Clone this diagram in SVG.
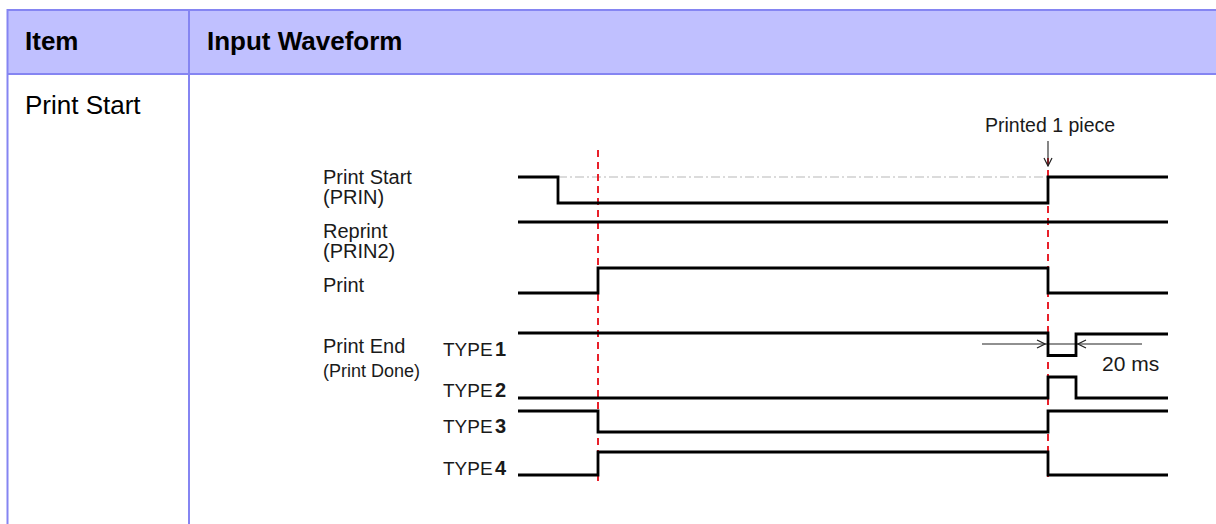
<svg xmlns="http://www.w3.org/2000/svg" width="1216" height="524" viewBox="0 0 1216 524">
<style>
.t{font-family:"Liberation Sans",Arial,sans-serif;fill:#000}
.hd{font-size:26px;font-weight:bold}
.bd{font-size:26px}
.lb{font-size:20px;fill:#1a1a1a}
.sm{font-size:18px;fill:#1a1a1a}
.ty{font-size:19px;fill:#1a1a1a}
.tn{font-size:20px;font-weight:bold;fill:#1a1a1a}
.w{fill:none;stroke:#000;stroke-width:2.8;stroke-linejoin:miter}
.red{stroke:#e8202a;stroke-width:2;stroke-dasharray:7 5;fill:none}
.thin{stroke:#222;stroke-width:1.1;fill:none}
</style>
<defs>
<marker id="ah" viewBox="0 0 10 10" refX="9" refY="5" markerWidth="10" markerHeight="10" markerUnits="userSpaceOnUse" orient="auto">
<path d="M1,1 L9,5 L1,9" fill="none" stroke="#222" stroke-width="1.2"/>
</marker>
</defs>
<rect width="1216" height="524" fill="#fff"/>
<g id="table">
<rect x="7" y="10" width="1215" height="64" fill="#c0c0ff"/>
<line x1="7" y1="10" x2="1216" y2="10" stroke="#8585f2" stroke-width="2"/>
<line x1="7" y1="74" x2="1216" y2="74" stroke="#8585f2" stroke-width="2"/>
<line x1="7.5" y1="9" x2="7.5" y2="524" stroke="#8585f2" stroke-width="2"/>
<line x1="189" y1="9" x2="189" y2="524" stroke="#8585f2" stroke-width="2"/>
<text class="t hd" x="25" y="50">Item</text>
<text class="t hd" x="207" y="50">Input Waveform</text>
<text class="t bd" x="25" y="114">Print Start</text>
</g>
<g id="labels">
<text class="t lb" x="323" y="184">Print Start</text>
<text class="t lb" x="323" y="204">(PRIN)</text>
<text class="t lb" x="323" y="238">Reprint</text>
<text class="t lb" x="323" y="258">(PRIN2)</text>
<text class="t lb" x="323" y="292">Print</text>
<text class="t lb" x="323" y="353">Print End</text>
<text class="t sm" x="323" y="377">(Print Done)</text>
<text class="t ty" x="443" y="356">TYPE</text>
<text class="t tn" x="495" y="356">1</text>
<text class="t ty" x="443" y="397">TYPE</text>
<text class="t tn" x="495" y="397">2</text>
<text class="t ty" x="443" y="433">TYPE</text>
<text class="t tn" x="495" y="433">3</text>
<text class="t ty" x="443" y="475">TYPE</text>
<text class="t tn" x="495" y="475">4</text>
<text class="t lb" x="985" y="132" style="font-size:19.5px">Printed 1 piece</text>
<text class="t lb" x="1102" y="371" style="font-size:21px">20 ms</text>
</g>
<g id="connectors">
<line x1="558" y1="177" x2="1048" y2="177" stroke="#b8b8b8" stroke-width="1.2" stroke-dasharray="9 3 2 3"/>
<line class="red" x1="598" y1="150" x2="598" y2="482"/>
<line class="red" x1="1048" y1="158" x2="1048" y2="482"/>
<line class="thin" x1="1048" y1="141" x2="1048" y2="166" marker-end="url(#ah)"/>
<line class="thin" x1="982" y1="344" x2="1045" y2="344" marker-end="url(#ah)"/>
<line class="thin" x1="1142" y1="344" x2="1078" y2="344" marker-end="url(#ah)"/>
<line class="thin" x1="1045" y1="344" x2="1078" y2="344"/>
</g>
<g id="waves">
<polyline class="w" points="518,177 558,177 558,203 1048,203 1048,177 1168,177"/>
<polyline class="w" points="518,222 1168,222"/>
<polyline class="w" points="518,293 598,293 598,268 1048,268 1048,293 1168,293"/>
<polyline class="w" points="518,333 1048,333 1048,355.5 1076,355.5 1076,334 1168,334"/>
<polyline class="w" points="518,398 1048,398 1048,377 1076,377 1076,398 1168,398"/>
<polyline class="w" points="518,411 598,411 598,432 1048,432 1048,411 1168,411"/>
<polyline class="w" points="518,475 598,475 598,452 1048,452 1048,475 1168,475"/>
</g>
</svg>
